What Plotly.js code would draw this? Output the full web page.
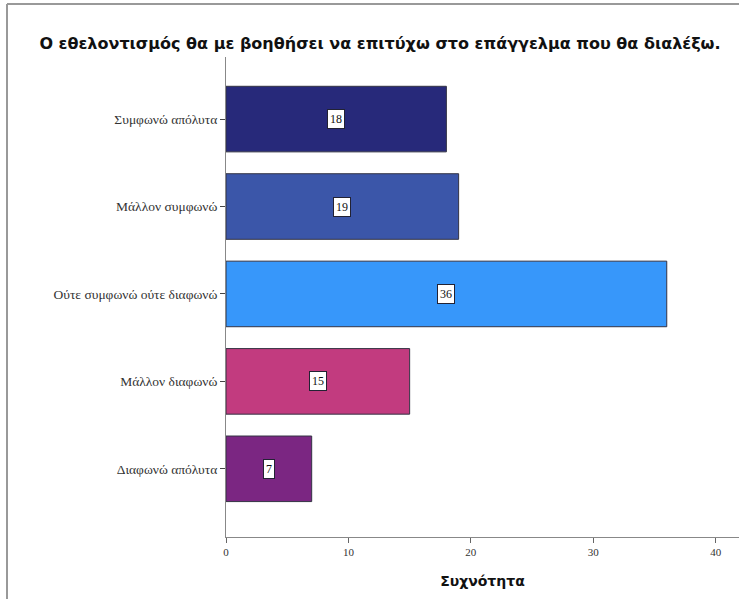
<!DOCTYPE html>
<html>
<head>
<meta charset="utf-8">
<script src="https://cdn.plot.ly/plotly-3.0.1.min.js"></script>
<style>html,body{margin:0;padding:0;background:#fff;}#chart{width:739px;height:599px;}</style>
</head>
<body>
<div id="chart"></div>
<script>
const categories = ["Συμφωνώ απόλυτα", "Μάλλον συμφωνώ", "Ούτε συμφωνώ ούτε διαφωνώ", "Μάλλον διαφωνώ", "Διαφωνώ απόλυτα"];
const counts = [18, 19, 36, 15, 7];
const barColors = ["#27297a", "#3b56a9", "#3797fa", "#c23b7f", "#7b2682"];
const xTicks = [0, 10, 20, 30, 40];
const titleText = "Ο εθελοντισμός θα με βοηθήσει να επιτύχω στο επάγγελμα που θα διαλέξω.";
const xTitle = "Συχνότητα";

const W = 739, H = 599, mL = 226, mR = 0, mT = 57, mB = 62;
const pw = W - mL - mR, ph = H - mT - mB;

const trace = {
  type: 'bar',
  orientation: 'h',
  x: counts,
  y: categories,
  marker: {color: barColors, line: {color: '#333344', width: 1}},
  hoverinfo: 'none',
  showlegend: false
};

const annotations = counts.map((v, i) => ({
  x: v / 2, y: categories[i], xref: 'x', yref: 'y',
  text: String(v), showarrow: false,
  font: {family: 'Liberation Serif, serif', size: 12, color: '#111'},
  bgcolor: '#ffffff', bordercolor: '#222233', borderwidth: 1, borderpad: 2
}));

const layout = {
  width: W, height: H,
  margin: {l: mL, r: mR, t: mT, b: mB, pad: 0},
  paper_bgcolor: '#ffffff', plot_bgcolor: '#ffffff',
  title: {text: titleText, x: 380 / W, xanchor: 'center', xref: 'container', y: 1 - 43 / H, yanchor: 'middle', yref: 'container',
    font: {family: 'DejaVu Sans, sans-serif', size: 16, color: '#111', weight: 'bold'}},
  bargap: 0.25,
  xaxis: {
    range: [0, 41.9], tickvals: xTicks, ticktext: xTicks.map(String),
    showgrid: false, zeroline: false, showline: true, linecolor: '#888', linewidth: 1,
    ticks: 'outside', ticklen: 5, tickcolor: '#666',
    tickfont: {family: 'Liberation Serif, serif', size: 11, color: '#333'},
    title: {text: xTitle, standoff: 18, font: {family: 'DejaVu Sans, sans-serif', size: 14, color: '#111', weight: 'bold'}}
  },
  yaxis: {
    type: 'category', categoryorder: 'array', categoryarray: categories,
    range: [4.78, -0.71],
    showgrid: false, zeroline: false, showline: true, linecolor: '#888', linewidth: 1,
    ticks: 'outside', ticklen: 5, tickcolor: '#444',
    tickfont: {family: 'Liberation Serif, serif', size: 13.5, color: '#333'}
  },
  annotations: annotations,
  shapes: [
    {type: 'line', xref: 'paper', yref: 'paper', x0: (7 - mL) / pw, x1: (7 - mL) / pw, y0: (H - mT - 9) / ph, y1: -mB / ph, line: {color: '#999', width: 2}},
    {type: 'line', xref: 'paper', yref: 'paper', x0: (7 - mL) / pw, x1: 1, y0: (H - mT - 9) / ph, y1: (H - mT - 9) / ph, line: {color: '#999', width: 2}}
  ]
};

Plotly.newPlot('chart', [trace], layout, {displayModeBar: false, staticPlot: true});
</script>
</body>
</html>
